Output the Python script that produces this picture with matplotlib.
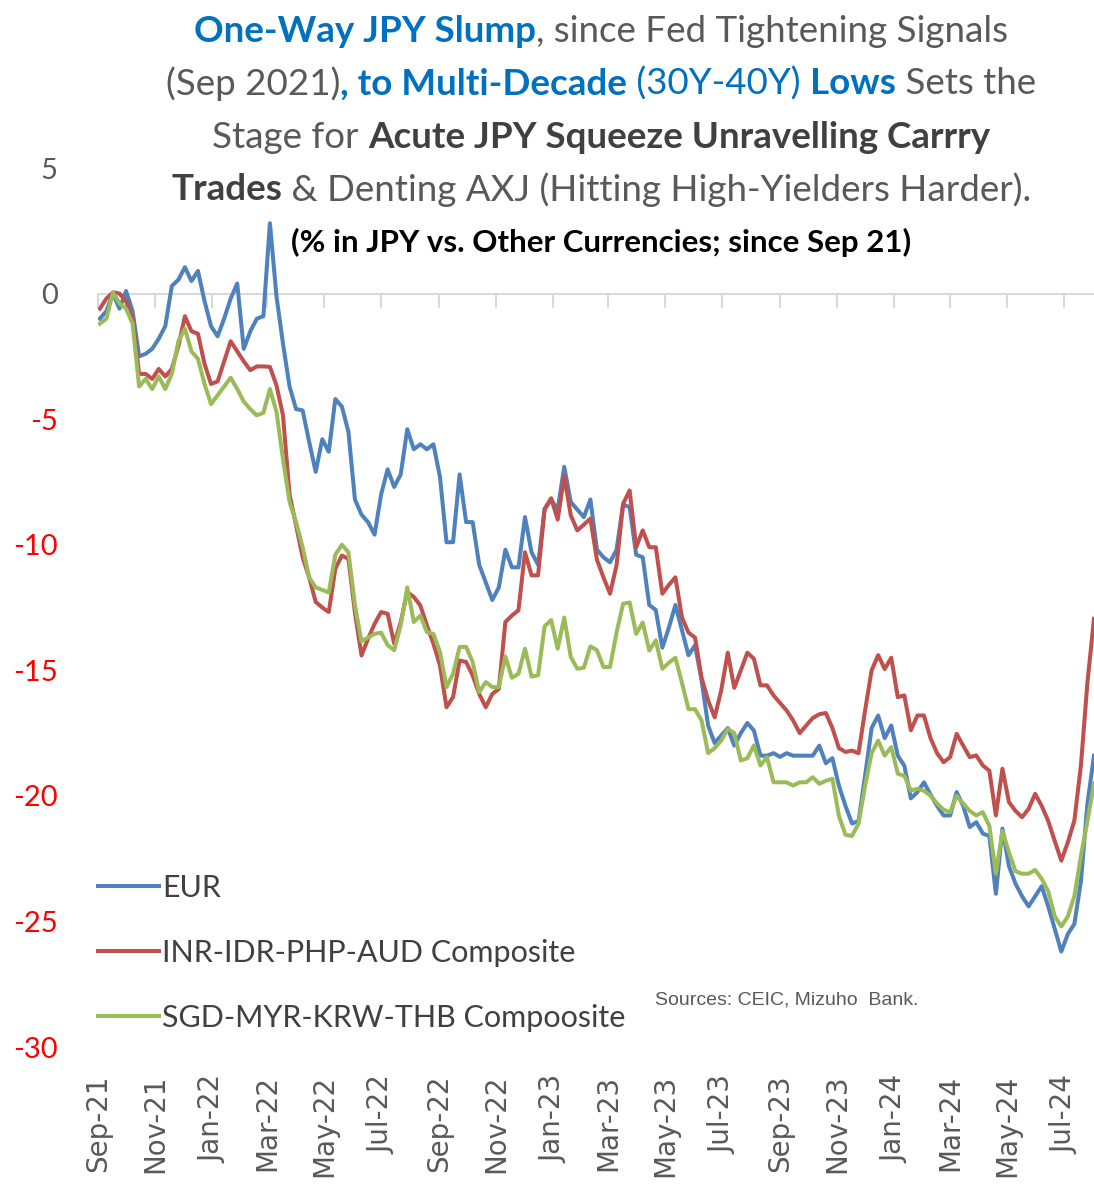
import pandas as pd
import matplotlib
matplotlib.use("Agg")
import matplotlib.pyplot as plt
import matplotlib.dates as mdates

# weekly observations, % change of JPY vs other currencies since Sep 2021
dates = pd.date_range("2021-09-03", periods=153, freq="W-FRI")

eur = [
    -1.0, -0.7, 0.0, -0.6, 0.1, -0.7, -2.5, -2.4, -2.2, -1.8,
    -1.3, 0.3, 0.55, 1.05, 0.5, 0.9, -0.3, -1.3, -1.7, -1.0,
    -0.2, 0.4, -2.2, -1.5, -1.0, -0.9, 2.8, -0.1, -2.0, -3.7,
    -4.6, -4.65, -5.9, -7.1, -5.8, -6.3, -4.2, -4.5, -5.5, -8.2,
    -8.8, -9.1, -9.6, -8.0, -7.0, -7.7, -7.2, -5.4, -6.2, -6.0,
    -6.2, -6.0, -7.3, -9.9, -9.9, -7.2, -9.1, -9.1, -10.8, -11.5,
    -12.2, -11.7, -10.2, -10.9, -10.9, -8.9, -10.3, -10.8, -8.6, -8.2,
    -8.6, -6.9, -8.3, -8.6, -8.9, -8.2, -10.2, -10.5, -10.7, -10.2,
    -8.4, -8.5, -10.4, -10.5, -12.4, -12.6, -14.1, -13.3, -12.4, -13.4,
    -14.4, -14.0, -15.4, -17.2, -17.9, -17.6, -17.3, -18.0, -17.5, -17.1,
    -17.4, -18.4, -18.4, -18.3, -18.45, -18.3, -18.4, -18.4, -18.4, -18.4,
    -18.0, -18.7, -18.5, -19.6, -20.4, -21.1, -21.0, -19.2, -17.3, -16.8,
    -17.7, -17.2, -18.4, -18.8, -20.1, -19.85, -19.46, -19.95, -20.4, -20.78,
    -20.78, -19.85, -20.4, -21.24, -21.05, -21.5, -21.6, -23.9, -21.3, -22.8,
    -23.5, -24.0, -24.4, -24.0, -23.6, -24.4, -25.3, -26.2, -25.5, -25.1,
    -23.4, -20.3, -18.4,
]

inr_idr_php_aud = [
    -0.6, -0.2, 0.05, 0.0, -0.3, -1.0, -3.2, -3.2, -3.4, -3.0,
    -3.3, -3.0, -2.1, -0.9, -1.5, -1.6, -2.8, -3.6, -3.5, -2.7,
    -1.9, -2.3, -2.7, -3.05, -2.9, -2.9, -2.92, -3.65, -4.85, -8.0,
    -9.23, -10.5, -11.3, -12.28, -12.5, -12.68, -10.96, -10.43, -10.56, -12.7,
    -14.41, -13.75, -13.15, -12.68, -12.75, -13.94, -13.08, -11.88, -12.08, -12.42,
    -13.21, -13.94, -14.81, -16.47, -16.07, -14.61, -14.67, -15.21, -15.94, -16.47,
    -15.94, -15.74, -13.08, -12.82, -12.61, -10.3, -11.22, -11.22, -8.57, -8.15,
    -9.0, -7.27, -8.83, -9.43, -9.2, -8.96, -10.6, -11.3, -11.95, -10.82,
    -8.37, -7.84, -10.1, -9.43, -10.1, -10.1, -11.95, -11.6, -11.3, -12.9,
    -13.5, -13.7, -15.3, -16.2, -16.87, -15.8, -14.3, -15.7, -15.0, -14.3,
    -14.54, -15.6, -15.6, -16.0, -16.3, -16.6, -17.0, -17.5, -17.2, -16.9,
    -16.75, -16.7, -17.3, -18.1, -18.25, -18.2, -18.3, -16.6, -15.0, -14.4,
    -14.95, -14.5, -16.07, -16.0, -17.39, -16.8, -16.8, -17.7, -18.3, -18.66,
    -18.46, -17.53, -18.0, -18.46, -18.39, -18.79, -19.0, -20.78, -18.92, -20.25,
    -20.6, -20.85, -20.52, -19.92, -20.4, -21.0, -21.8, -22.58, -21.85, -20.98,
    -18.79, -15.47, -12.95,
]

sgd_myr_krw_thb = [
    -1.2, -1.0, 0.05, -0.4, -0.6, -1.2, -3.7, -3.4, -3.8, -3.3,
    -3.8, -3.2, -1.9, -1.4, -2.3, -2.6, -3.6, -4.4, -4.05, -3.7,
    -3.35, -3.8, -4.3, -4.6, -4.85, -4.75, -3.8, -4.7, -6.6, -8.3,
    -9.1, -10.1, -11.3, -11.7, -11.8, -11.9, -10.4, -10.0, -10.3, -12.4,
    -13.85, -13.7, -13.55, -13.5, -14.0, -14.2, -13.2, -11.7, -13.08, -12.82,
    -13.48, -13.55, -14.27, -15.67, -15.14, -14.07, -14.07, -14.67, -15.87, -15.47,
    -15.67, -15.67, -14.45, -15.3, -15.14, -14.14, -15.25, -15.2, -13.25, -13.0,
    -14.14, -12.9, -14.47, -14.94, -14.9, -14.05, -14.2, -14.87, -14.87, -13.5,
    -12.35, -12.3, -13.55, -13.1, -14.21, -13.81, -14.94, -14.7, -14.5, -15.5,
    -16.55, -16.55, -17.0, -18.3, -18.1, -17.8, -17.33, -17.5, -18.59, -18.5,
    -17.99, -18.79, -18.46, -19.46, -19.46, -19.46, -19.59, -19.46, -19.46, -19.26,
    -19.52, -19.4, -19.32, -20.8, -21.55, -21.6, -21.1, -19.6, -18.3, -17.8,
    -18.4, -18.06, -19.12, -19.2, -19.79, -19.72, -19.8, -19.99, -20.3, -20.55,
    -20.65, -20.0, -20.3, -20.6, -20.78, -20.65, -21.2, -23.1, -21.4, -22.25,
    -23.0, -23.1, -23.1, -22.95, -23.3, -23.8, -24.8, -25.2, -24.8, -24.0,
    -22.4, -21.0, -19.5,
]

series_labels = ["EUR", "INR-IDR-PHP-AUD Composite", "SGD-MYR-KRW-THB Compoosite"]
series_colors = ["#4F81BD", "#C0504D", "#9BBB59"]
y_ticks = [5, 0, -5, -10, -15, -20, -25, -30]

BLUE = "#0070C0"
GRAY = "#595959"
DARK = "#404040"

title_lines = [
    [("One-Way JPY Slump", BLUE, "bold"), (", since Fed Tightening Signals", GRAY, "normal")],
    [("(Sep 2021)", GRAY, "normal"), (", to Multi-Decade", BLUE, "bold"),
     (" (30Y-40Y) ", BLUE, "normal"), ("Lows", BLUE, "bold"), (" Sets the", GRAY, "normal")],
    [("Stage for ", GRAY, "normal"), ("Acute JPY Squeeze Unravelling Carrry", DARK, "bold")],
    [("Trades", DARK, "bold"), (" & Denting AXJ (Hitting High-Yielders Harder).", GRAY, "normal")],
]
subtitle = "(% in JPY vs. Other Currencies; since Sep 21)"
source_note = "Sources: CEIC, Mizuho  Bank."

W, H = 1094, 1185
fig = plt.figure(figsize=(W / 100, H / 100), dpi=100)
ax = fig.add_axes([98 / W, 138 / H, 996 / W, 879 / H])

for vals, lab, col in zip([eur, inr_idr_php_aud, sgd_myr_krw_thb], series_labels, series_colors):
    ax.plot(dates, vals, color=col, lw=2.9, label=lab, solid_joinstyle="round")

ax.set_xlim(pd.Timestamp("2021-09-01"), dates[-1])
ax.set_ylim(-30, 5)

for side in ["top", "right", "left"]:
    ax.spines[side].set_visible(False)
ax.spines["bottom"].set_position(("data", 0))
ax.spines["bottom"].set_color("#D9D9D9")
ax.spines["bottom"].set_linewidth(1.5)
ax.spines["bottom"].set_zorder(0)

ax.xaxis.set_major_locator(mdates.MonthLocator(bymonth=[1, 3, 5, 7, 9, 11]))
ax.tick_params(axis="x", direction="out", length=10, width=1.5, color="#D9D9D9",
               labelbottom=False)

sec = ax.secondary_xaxis("bottom")
sec.xaxis.set_major_locator(mdates.MonthLocator(bymonth=[1, 3, 5, 7, 9, 11]))
sec.xaxis.set_major_formatter(mdates.DateFormatter("%b-%y"))
sec.tick_params(length=0, pad=20, labelsize=20, labelcolor=GRAY, rotation=90)
sec.spines["bottom"].set_visible(False)

ax.set_yticks(y_ticks)
ax.set_yticklabels([str(v) for v in y_ticks], family="Lato", fontsize=21)
ax.tick_params(axis="y", length=0, pad=29)
for lbl, v in zip(ax.get_yticklabels(), y_ticks):
    lbl.set_color("#FF0000" if v < 0 else GRAY)

leg = ax.legend(loc="lower left", bbox_to_anchor=(0.0, 0.017), frameon=False,
                prop={"family": "Lato", "size": 22}, handlelength=2.0,
                handletextpad=0.1, labelspacing=1.21, borderpad=0, borderaxespad=0)
for t in leg.get_texts():
    t.set_color(DARK)

fig.text(655 / W, 1 - 1000 / H, source_note, family="Liberation Sans", fontsize=14,
         color=GRAY, ha="left", va="center")


def rich_line(y_px, pieces, size, cx_px=601):
    r = fig.canvas.get_renderer()
    widths = []
    for s, col, wt in pieces:
        t = fig.text(0, 0, "|" + s + "|", family="Lato", fontsize=size, fontweight=wt)
        w1 = t.get_window_extent(r).width
        t.set_text("||")
        w2 = t.get_window_extent(r).width
        t.remove()
        widths.append(w1 - w2)
    x = cx_px - sum(widths) / 2
    for (s, col, wt), w in zip(pieces, widths):
        fig.text(x / W, 1 - y_px / H, s, family="Lato", fontsize=size, fontweight=wt,
                 color=col, ha="left", va="center")
        x += w


for k, pieces in enumerate(title_lines):
    rich_line(31 + 53 * k, pieces, 26.5)
rich_line(242, [(subtitle, "black", "bold")], 22.5)

fig.savefig("out.png", dpi=100)
